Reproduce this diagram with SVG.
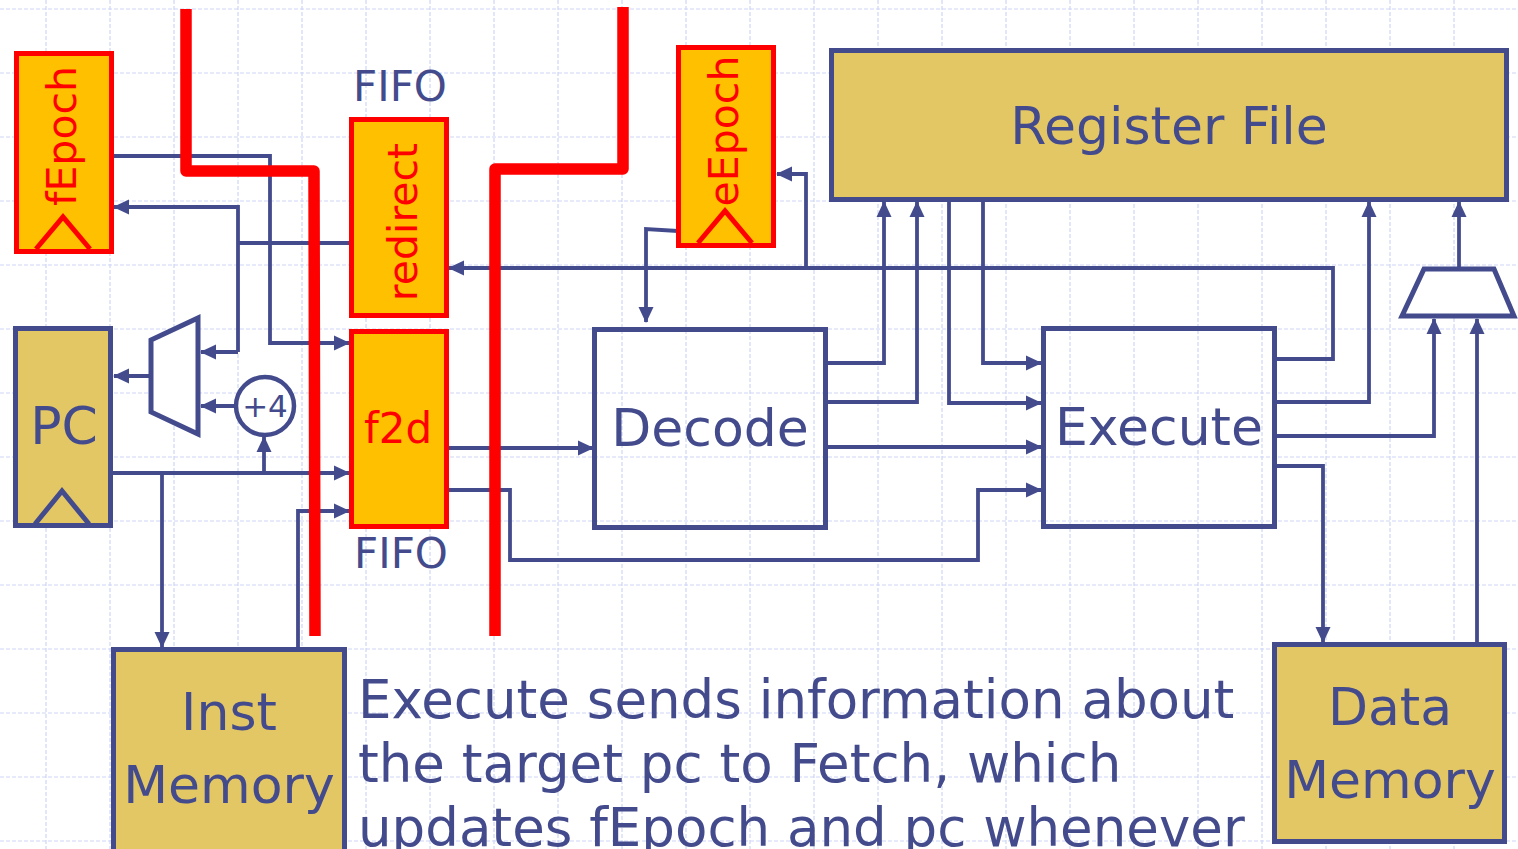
<svg xmlns="http://www.w3.org/2000/svg" width="1518" height="849" viewBox="0 0 1518 849">
  <defs>
    <marker id="arrow" markerUnits="userSpaceOnUse" markerWidth="16" markerHeight="16" viewBox="0 0 16 16" refX="15" refY="8" orient="auto">
      <path d="M0,0.5 L16,8 L0,15.5 z" fill="#434B8D"/>
    </marker>
    <style>
      .grid { stroke: #CDD6F6; stroke-width: 1.2; stroke-dasharray: 4 2; fill: none; }
      .wire { stroke: #434B8D; stroke-width: 3.8; fill: none; }
      .arr { marker-end: url(#arrow); }
      .unit { stroke: #434B8D; stroke-width: 5; fill: none; }
      .mem { stroke: #434B8D; stroke-width: 5; fill: #E3C765; }
      .reg { stroke: #FF0000; stroke-width: 5; fill: #FFC000; }
      .clk { stroke: #FF0000; stroke-width: 5; fill: none; stroke-linejoin: miter; }
      .clkb { stroke: #434B8D; stroke-width: 5; fill: none; }
      .mux { stroke: #434B8D; stroke-width: 5; fill: #FFFFFF; stroke-linejoin: miter; }
      .cut { stroke: #FF0000; stroke-width: 11.5; fill: none; stroke-linejoin: round; }
      .t { font-family: "DejaVu Sans", Verdana, sans-serif; fill: #434B8D; text-anchor: middle; }
      .tr { font-family: "DejaVu Sans", Verdana, sans-serif; fill: #FF0000; text-anchor: middle; }
      .body { font-family: "DejaVu Sans", Verdana, sans-serif; fill: #434B8D; font-size: 53px; }
    </style>
  </defs>

  <rect width="1518" height="849" fill="#FFFFFF"/>

  <!-- background grid -->
  <g id="grid">
    <path class="grid" d="M46,0V849 M110,0V849 M174,0V849 M238,0V849 M302,0V849 M366,0V849 M430,0V849 M494,0V849 M558,0V849 M622,0V849 M686,0V849 M750,0V849 M814,0V849 M878,0V849 M942,0V849 M1006,0V849 M1070,0V849 M1134,0V849 M1198,0V849 M1262,0V849 M1326,0V849 M1390,0V849 M1454,0V849"/>
    <path class="grid" d="M0,9H1518 M0,73H1518 M0,137H1518 M0,201H1518 M0,265H1518 M0,329H1518 M0,393H1518 M0,457H1518 M0,521H1518 M0,585H1518 M0,649H1518 M0,713H1518 M0,777H1518 M0,841H1518"/>
  </g>

  <!-- wires -->
  <g id="connectors">
    <!-- fetch stage -->
    <path class="wire arr" d="M113,156 H270 V343 H349"/>
    <path class="wire" d="M349,243 H238"/>
    <path class="wire arr" d="M238,352 V207 H114"/>
    <path class="wire arr" d="M238,352 H201"/>
    <path class="wire arr" d="M149,376 H114"/>
    <path class="wire arr" d="M235,406 H201"/>
    <path class="wire arr" d="M113,473 H349"/>
    <path class="wire arr" d="M162,473 V647"/>
    <path class="wire arr" d="M264,473 V437"/>
    <path class="wire arr" d="M298,647 V511 H349"/>
    <!-- f2d to decode / execute -->
    <path class="wire arr" d="M449,448 H593"/>
    <path class="wire arr" d="M449,490 H510 V560 H978 V490 H1041"/>
    <!-- eEpoch to decode -->
    <path class="wire arr" d="M678,231 L646,229 V322"/>
    <!-- redirect path from execute -->
    <path class="wire arr" d="M1277,359 H1333 V268 H449"/>
    <path class="wire arr" d="M806,268 V174 H777"/>
    <!-- decode to register file -->
    <path class="wire arr" d="M828,363 H884 V202"/>
    <path class="wire arr" d="M828,402 H917 V202"/>
    <!-- register file to execute -->
    <path class="wire arr" d="M983,202 V363 H1041"/>
    <path class="wire arr" d="M949,202 V403 H1041"/>
    <path class="wire arr" d="M828,447 H1041"/>
    <!-- execute outputs -->
    <path class="wire arr" d="M1277,402 H1369 V202"/>
    <path class="wire arr" d="M1277,436 H1434 V319"/>
    <path class="wire arr" d="M1277,466 H1323 V642"/>
    <path class="wire arr" d="M1477,642 V319"/>
    <path class="wire arr" d="M1459,268 V202"/>
  </g>

  <!-- state elements and units -->
  <g id="fEpoch">
    <rect class="reg" x="16.5" y="53.5" width="95" height="198"/>
    <path class="clk" d="M36,249 L63,217 L90,249"/>
    <text class="tr" font-size="41" transform="translate(76,136) rotate(-90)">fEpoch</text>
  </g>

  <g id="pc">
    <rect class="mem" x="15.5" y="328.5" width="95" height="197"/>
    <path class="clkb" d="M35,524 L62,491 L89,524"/>
    <text class="t" font-size="52" x="64" y="444">PC</text>
  </g>

  <g id="pc-mux">
    <polygon class="mux" points="151,340 198,318 198,434 151,412"/>
  </g>

  <g id="plus4">
    <circle cx="265" cy="406" r="29" fill="#FFFFFF" stroke="#434B8D" stroke-width="4.5"/>
    <text class="t" font-size="31" x="265" y="417">+4</text>
  </g>

  <g id="redirect">
    <text class="t" font-size="42" x="400" y="101">FIFO</text>
    <rect class="reg" x="351.5" y="119.5" width="95" height="196"/>
    <text class="tr" font-size="41" transform="translate(417,222) rotate(-90)">redirect</text>
  </g>

  <g id="f2d">
    <rect class="reg" x="351.5" y="331.5" width="95" height="195"/>
    <text class="tr" font-size="42" x="398" y="443">f2d</text>
    <text class="t" font-size="42" x="401" y="568">FIFO</text>
  </g>

  <g id="inst-memory">
    <rect class="mem" x="113.5" y="649.5" width="231" height="210"/>
    <text class="t" font-size="52" x="229" y="730">Inst</text>
    <text class="t" font-size="52" x="229" y="803">Memory</text>
  </g>

  <g id="eEpoch">
    <rect class="reg" x="678.5" y="47.5" width="95" height="198"/>
    <path class="clk" d="M698,243 L725,211 L752,243"/>
    <text class="tr" font-size="41" transform="translate(738,131) rotate(-90)">eEpoch</text>
  </g>

  <g id="decode">
    <rect class="unit" x="594.5" y="329.5" width="231" height="198"/>
    <text class="t" font-size="52" x="710" y="446">Decode</text>
  </g>

  <g id="register-file">
    <rect class="mem" x="831.5" y="50.5" width="675" height="149"/>
    <text class="t" font-size="52" x="1169" y="144">Register File</text>
  </g>

  <g id="execute">
    <rect class="unit" x="1043.5" y="328.5" width="231" height="198"/>
    <text class="t" font-size="52" x="1159" y="445">Execute</text>
  </g>

  <g id="wb-mux">
    <polygon class="mux" points="1424,269 1494,269 1514,316 1402,316"/>
  </g>

  <g id="data-memory">
    <rect class="mem" x="1274.5" y="644.5" width="230" height="197"/>
    <text class="t" font-size="52" x="1390" y="725">Data</text>
    <text class="t" font-size="52" x="1390" y="798">Memory</text>
  </g>

  <!-- pipeline stage boundaries -->
  <g id="stage-cuts">
    <path class="cut" d="M186,9 V171 H314 L315,636"/>
    <path class="cut" d="M623,7 V169 H495 V636"/>
  </g>

  <!-- caption -->
  <g id="caption">
    <text class="body" x="358" y="718">Execute sends information about</text>
    <text class="body" x="358" y="782">the target pc to Fetch, which</text>
    <text class="body" x="358" y="846">updates fEpoch and pc whenever</text>
  </g>
</svg>
